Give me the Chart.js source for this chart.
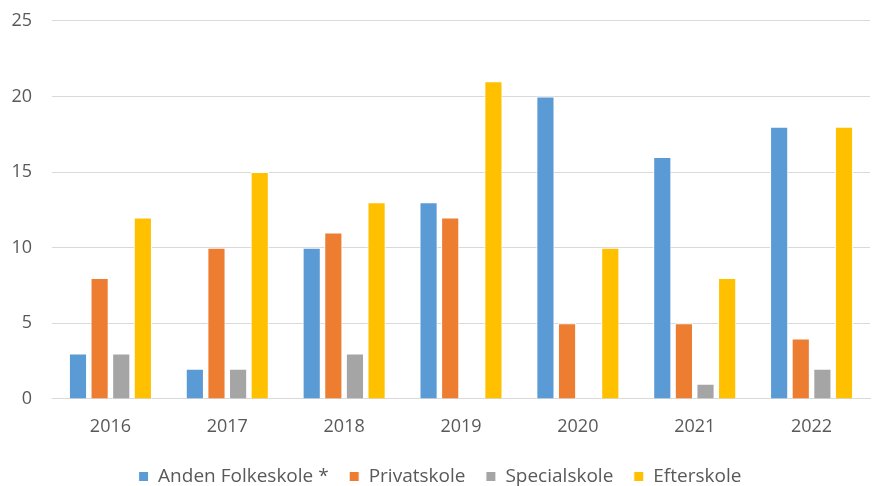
<!DOCTYPE html>
<html>
<head>
<meta charset="utf-8">
<script src="https://cdn.jsdelivr.net/npm/chart.js@4/dist/chart.umd.min.js"></script>
<style>
  html, body { margin: 0; padding: 0; background: #fff; }
  #wrap { width: 872px; height: 486px; }
</style>
</head>
<body>
<div id="wrap"><canvas id="myChart" width="872" height="486"></canvas></div>
<script>
const years = ['2016', '2017', '2018', '2019', '2020', '2021', '2022'];
const andenFolkeskole = [3, 2, 10, 13, 20, 16, 18];
const privatskole = [8, 10, 11, 12, 5, 5, 4];
const specialskole = [3, 2, 3, 0, 0, 1, 2];
const efterskole = [12, 15, 13, 21, 10, 8, 18];
const yTicks = [0, 5, 10, 15, 20, 25];

const textColor = '#595959';
const fontFamily = 'Open Sans';

function makeSet(label, data, color) {
  return {
    label: label,
    data: data,
    backgroundColor: color,
    borderColor: '#ffffff',
    borderWidth: 1,
    categoryPercentage: 0.74,
    barPercentage: 0.84
  };
}

window.addEventListener('load', setup);

function setup() {
  const ctx = document.getElementById('myChart').getContext('2d');
  const myChart = new Chart(ctx, {
    type: 'bar',
    data: {
      labels: years,
      datasets: [
        makeSet('Anden Folkeskole *', andenFolkeskole, '#5B9BD5'),
        makeSet('Privatskole', privatskole, '#ED7D31'),
        makeSet('Specialskole', specialskole, '#A5A5A5'),
        makeSet('Efterskole', efterskole, '#FFC000')
      ]
    },
    options: {
      responsive: false,
      animation: false,
      layout: { padding: { left: 10, right: 2, top: 0, bottom: -10 } },
      plugins: {
        tooltip: { enabled: false },
        legend: {
          position: 'bottom',
          labels: {
            boxWidth: 10,
            boxHeight: 10,
            padding: 20.5,
            color: textColor,
            font: { family: fontFamily, size: 19 }
          }
        }
      },
      scales: {
        x: {
          grid: { display: false },
          border: { display: true, color: '#d9d9d9', width: 1 },
          ticks: {
            color: textColor,
            padding: 9,
            font: { family: fontFamily, size: 18 }
          }
        },
        y: {
          min: 0,
          max: 25,
          afterBuildTicks: function (axis) {
            axis.ticks = yTicks.map(v => ({ value: v }));
          },
          afterFit: function (axis) { axis.width = 42; },
          grid: {
            color: '#d9d9d9',
            lineWidth: 1,
            drawTicks: true,
            tickLength: 10,
            tickColor: 'rgba(0,0,0,0)'
          },
          border: { display: false },
          ticks: {
            color: textColor,
            padding: 10,
            font: { family: fontFamily, size: 18 }
          }
        }
      }
    }
  });
}
</script>
</body>
</html>
